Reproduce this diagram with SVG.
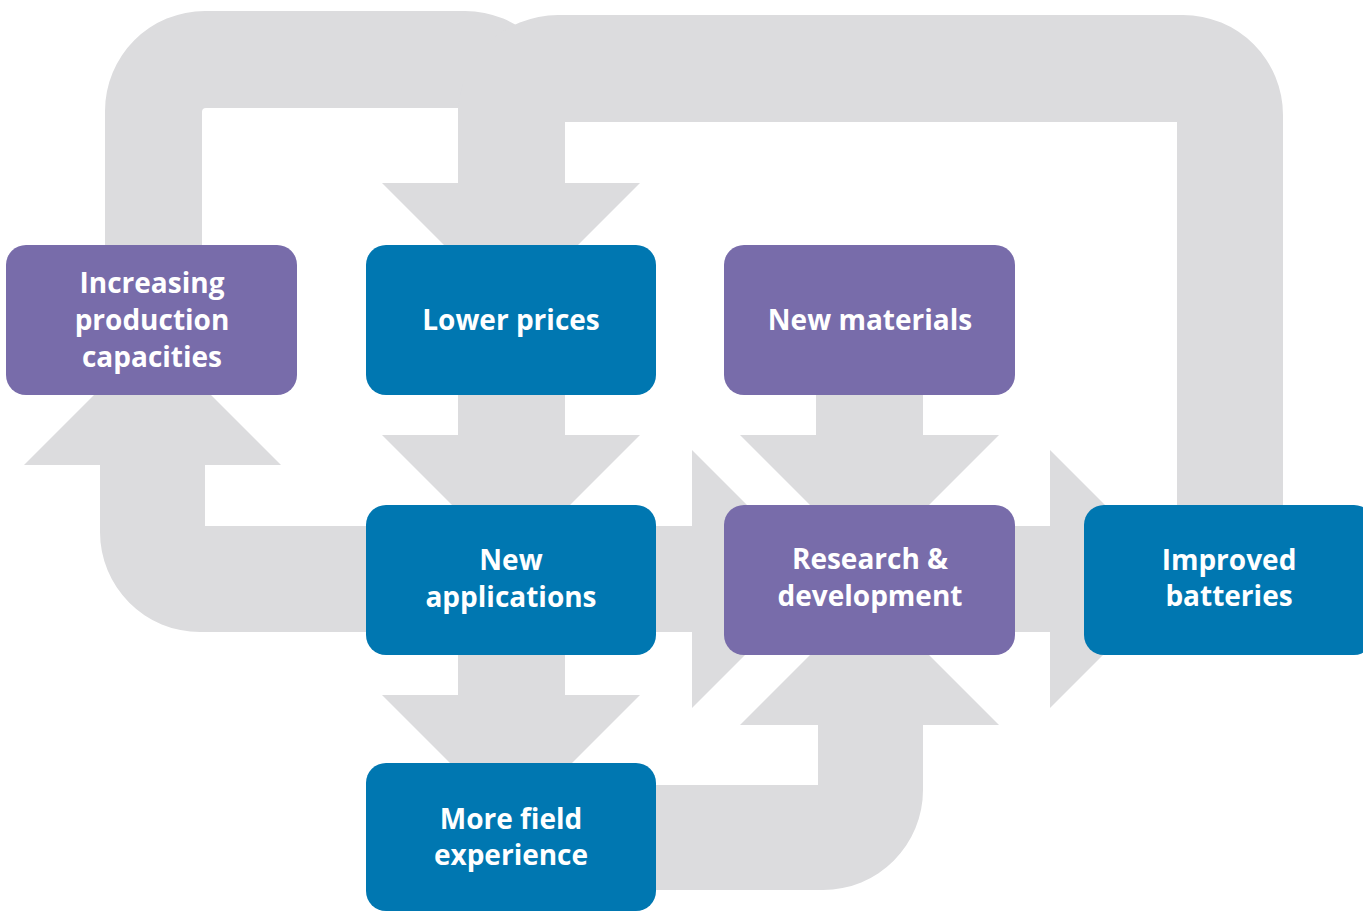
<svg xmlns="http://www.w3.org/2000/svg" width="1363" height="911" viewBox="0 0 1363 911">
  <style>
    .flow { fill: #DCDCDE; stroke: none; }
    .blue { fill: #0077B1; }
    .purple { fill: #786CAA; }
    .label { font-family: "Open Sans", "Liberation Sans", sans-serif; font-weight: 700; font-size: 28px; fill: #FFFFFF; text-anchor: middle; }
  </style>
  <rect width="1363" height="911" fill="#FFFFFF"/>
  <g id="connectors">
    <path class="flow" d="M105,250 L105,111 A100,100 0 0 1 205,11 L465,11 A100,100 0 0 1 565,111 L565,183 L640,183 L511,312 L382,183 L458,183 L458,108 L206,108 Q202,108 202,112 L202,250 Z"/>
    <path class="flow" d="M1177,510 L1177,122 L565,122 L565,200 L458,200 L458,115 A100,100 0 0 1 558,15 L1183,15 A100,100 0 0 1 1283,115 L1283,510 Z"/>
    <path class="flow" d="M458,390 L565,390 L565,435 L640,435 L511,564 L382,435 L458,435 Z"/>
    <path class="flow" d="M458,650 L565,650 L565,695 L640,695 L511,824 L382,695 L458,695 Z"/>
    <path class="flow" d="M370,526 L205,526 L205,465 L281,465 L152.5,336.5 L24,465 L100,465 L100,532 A100,100 0 0 0 200,632 L370,632 Z"/>
    <path class="flow" d="M650,526 L692,526 L692,450 L821,579 L692,708 L692,632 L650,632 Z"/>
    <path class="flow" d="M1010,526 L1050,526 L1050,450 L1179,579 L1050,708 L1050,632 L1010,632 Z"/>
    <path class="flow" d="M816,390 L923,390 L923,435 L999,435 L869.5,564.5 L740,435 L816,435 Z"/>
    <path class="flow" d="M650,785 L818,785 L818,725 L740,725 L869.5,595.5 L999,725 L923,725 L923,790 A100,100 0 0 1 823,890 L650,890 Z"/>
  </g>
  <g id="node-increasing">
    <rect class="purple" x="6" y="245" width="291" height="150" rx="20"/>
    <text class="label" x="152" y="293">Increasing</text>
    <text class="label" x="152" y="330">production</text>
    <text class="label" x="152" y="367">capacities</text>
  </g>
  <g id="node-lower-prices">
    <rect class="blue" x="366" y="245" width="290" height="150" rx="20"/>
    <text class="label" x="511" y="330">Lower prices</text>
  </g>
  <g id="node-new-materials">
    <rect class="purple" x="724" y="245" width="291" height="150" rx="20"/>
    <text class="label" x="870" y="330">New materials</text>
  </g>
  <g id="node-new-applications">
    <rect class="blue" x="366" y="505" width="290" height="150" rx="20"/>
    <text class="label" x="511" y="570">New</text>
    <text class="label" x="511" y="607">applications</text>
  </g>
  <g id="node-research">
    <rect class="purple" x="724" y="505" width="291" height="150" rx="20"/>
    <text class="label" x="870" y="569">Research &amp;</text>
    <text class="label" x="870" y="606">development</text>
  </g>
  <g id="node-improved">
    <rect class="blue" x="1084" y="505" width="290" height="150" rx="20"/>
    <text class="label" x="1229" y="570">Improved</text>
    <text class="label" x="1229" y="606">batteries</text>
  </g>
  <g id="node-field">
    <rect class="blue" x="366" y="763" width="290" height="148" rx="20"/>
    <text class="label" x="511" y="829">More field</text>
    <text class="label" x="511" y="865">experience</text>
  </g>
</svg>
